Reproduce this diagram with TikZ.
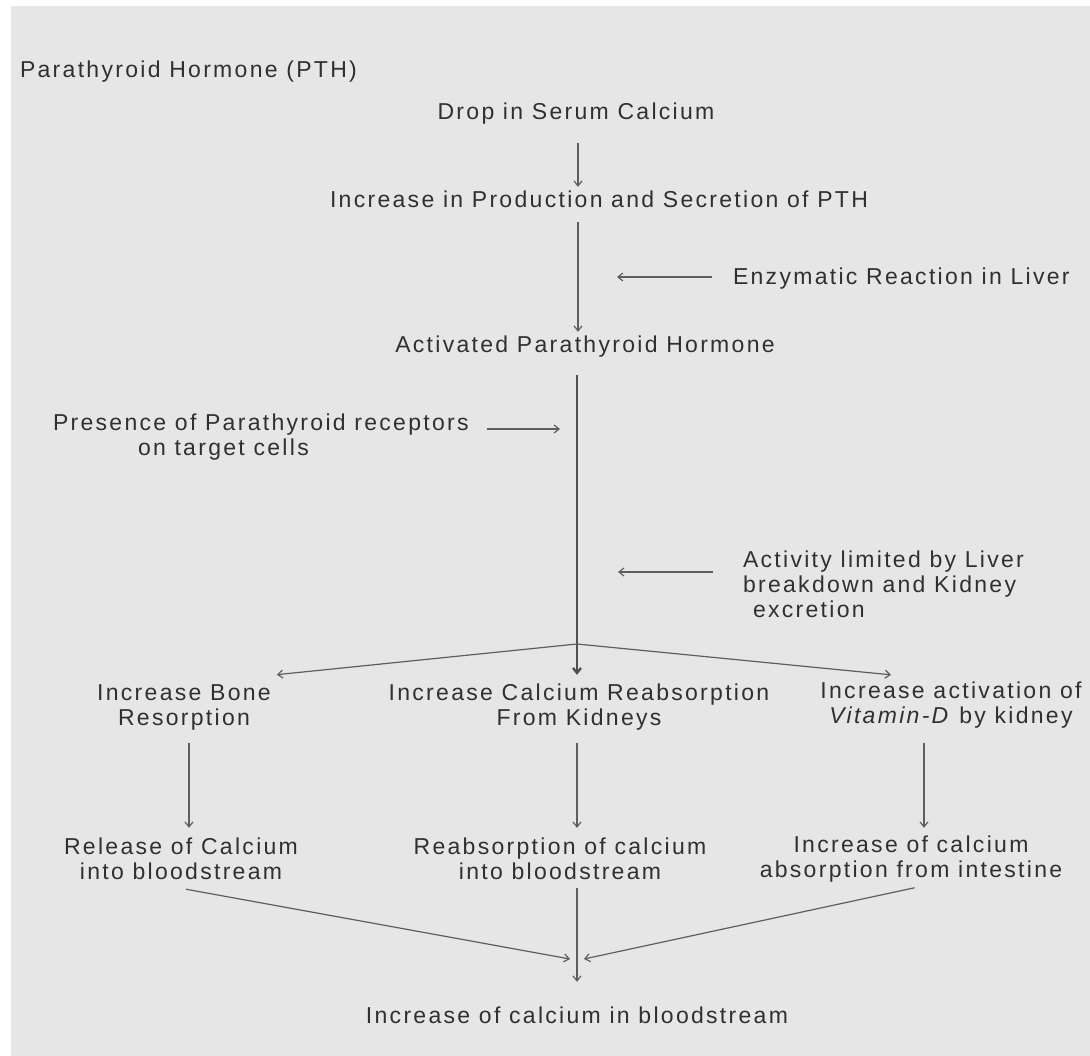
\documentclass[tikz,border=0pt]{standalone}
\usepackage{fontspec}
\setmainfont{Liberation Sans}[LetterSpace=10]
\usetikzlibrary{arrows.meta,calc}
\definecolor{bg}{HTML}{E6E6E6}
\definecolor{ink}{HTML}{303030}
\definecolor{wire}{HTML}{5E5E5E}
\begin{document}
\begin{tikzpicture}[x=1pt,y=-1pt,
  lbl/.style={inner sep=0pt, outer sep=0pt, text=ink, font=\fontsize{23}{25}\selectfont, align=center, anchor=base},
  arr/.style={draw=wire, line width=1.2pt, -{Straight Barb[length=5pt,width=8pt]}},
  thickarr/.style={draw=wire!85!black, line width=2.4pt, -{Straight Barb[length=5pt,width=8pt]}}]
\useasboundingbox (0,0) rectangle (1090,1056);
\fill[bg] (11,6) rectangle (1090,1056);

% nodes (multi-line nodes are placed by the baseline of their last line)
\node[lbl, anchor=base west] (title) at (20,78) {Parathyroid Hormone (PTH)};
\node[lbl] (drop) at (576,120) {Drop in Serum Calcium};
\node[lbl] (incr) at (599,208) {Increase in Production and Secretion of PTH};
\node[lbl, anchor=base west] (enz) at (733,285) {Enzymatic Reaction in Liver};
\node[lbl] (act) at (585,353) {Activated Parathyroid Hormone};
\node[lbl, anchor=base west, align=left] (pres) at (53,456) {Presence of Parathyroid receptors\\\hspace*{85pt}on target cells};
\node[lbl, anchor=base west, align=left] (lim) at (743,617) {Activity limited by Liver\\breakdown and Kidney\\\hspace*{10pt}excretion};
\node[lbl] (bone) at (184,725) {Increase Bone\\Resorption};
\node[lbl] (kid) at (579,725) {Increase Calcium Reabsorption\\From Kidneys};
\node[lbl] (vit) at (951,723) {Increase activation of\\\textit{Vitamin-D} by kidney};
\node[lbl] (rel) at (181,879) {Release of Calcium\\into bloodstream};
\node[lbl] (reab) at (560,879) {Reabsorption of calcium\\into bloodstream};
\node[lbl] (intes) at (911,877) {Increase of calcium\\absorption from intestine};
\node[lbl] (fin) at (577,1023) {Increase of calcium in bloodstream};

% coordinates
\coordinate (spine) at (578,0);
\coordinate (hub) at (577,644);
\coordinate (colL) at (189,0);
\coordinate (colM) at (577,0);
\coordinate (colR) at (924,0);
\coordinate (enzTip) at (617,277);
\coordinate (presTip) at (560,429);
\coordinate (limTip) at (618,572);
\coordinate (tipL) at (570,959);
\coordinate (tipR) at (584,959);

% connectors
\draw[arr, shorten <=18pt, shorten >=4.5pt] (drop.south -| spine) -- (incr.north -| spine);
\draw[arr, shorten <=13.7pt, shorten >=4.5pt] (incr.south -| spine) -- (act.north -| spine);
\draw[arr, shorten <=21pt] (enz.west |- enzTip) -- (enzTip);
\draw[arr, shorten <=18pt] (pres.north east |- presTip) -- (presTip);
\draw[arr, shorten <=30pt] (lim.west |- limTip) -- (limTip);
\draw[thickarr, shorten <=17pt, shorten >=8.5pt] (act.south -| hub) -- (kid.north -| hub);
\draw[arr] (hub) -- ([shift={(6,-9.5)}]bone.north east);
\draw[arr] (hub) -- ([shift={(-60,-6.5)}]vit.north);
\draw[arr, shorten <=13pt, shorten >=9.5pt] (bone.south -| colL) -- (rel.north -| colL);
\draw[arr, shorten <=13pt, shorten >=9.5pt] (kid.south -| colM) -- (reab.north -| colM);
\draw[arr, shorten <=15pt, shorten >=7.5pt] (vit.south -| colR) -- (intes.north -| colR);
\draw[arr] ([shift={(5,10)}]rel.south) -- (tipL);
\draw[arr] ([shift={(3.5,6)}]intes.south) -- (tipR);
\draw[arr, shorten <=8.7pt, shorten >=24.5pt] (reab.south -| colM) -- (fin.north -| colM);
\end{tikzpicture}
\end{document}
